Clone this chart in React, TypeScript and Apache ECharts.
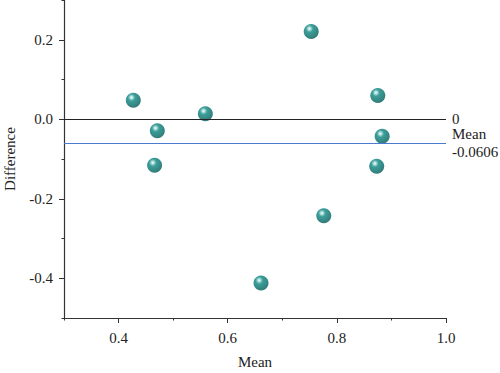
import React, { useEffect, useRef } from "react";
import * as echarts from "echarts";

const meanValues = [0.427, 0.471, 0.466, 0.559, 0.753, 0.661, 0.776, 0.875, 0.883, 0.873];
const diffValues = [0.048, -0.029, -0.116, 0.014, 0.221, -0.412, -0.243, 0.060, -0.043, -0.118];
const meanDiff = -0.0606;
const xTickLabels = [0.4, 0.6, 0.8, 1.0];
const yTickLabels = [-0.4, -0.2, 0.0, 0.2];

const FONT = "Liberation Serif";

export default function App() {
  const ref = useRef<HTMLDivElement>(null);
  useEffect(() => {
    const chart = echarts.init(ref.current!, null, { renderer: "svg" });
    const near = (v: number, arr: number[]) => arr.some((a) => Math.abs(a - v) < 1e-6);
    const axisColor = "#333";
    const labelBase = { fontFamily: FONT, fontSize: 15, color: "#222" };
    chart.setOption({
      animation: false,
      grid: { left: 64, right: 54, top: 0, bottom: 55, outerBoundsMode: "none", containLabel: false },
      xAxis: [
        {
          type: "value",
          min: 0.3,
          max: 1.0,
          interval: 0.1,
          name: "Mean",
          nameLocation: "middle",
          nameGap: 36,
          nameTextStyle: labelBase,
          axisLine: { show: true, onZero: false, lineStyle: { color: axisColor, width: 1.2 } },
          axisTick: { show: true, length: 2.5, lineStyle: { color: axisColor } },
          axisLabel: {
            ...labelBase,
            margin: 12,
            formatter: (v: number) => (near(v, xTickLabels) ? v.toFixed(1) : ""),
          },
          splitLine: { show: false },
        },
        {
          type: "value",
          min: 0.3,
          max: 1.0,
          interval: 0.1,
          position: "bottom",
          axisLine: { show: false, onZero: false },
          axisTick: { show: true, length: 5, customValues: xTickLabels, lineStyle: { color: axisColor } },
          axisLabel: { show: false },
          splitLine: { show: false },
        },
      ],
      yAxis: [
        {
          type: "value",
          min: -0.5,
          max: 0.3,
          interval: 0.1,
          name: "Difference",
          nameLocation: "middle",
          nameGap: 47,
          nameTextStyle: labelBase,
          axisLine: { show: true, onZero: false, lineStyle: { color: axisColor, width: 1.2 } },
          axisTick: { show: true, length: 2.5, lineStyle: { color: axisColor } },
          axisLabel: {
            ...labelBase,
            margin: 11,
            formatter: (v: number) => (near(v, yTickLabels) ? v.toFixed(1) : ""),
          },
          splitLine: { show: false },
        },
        {
          type: "value",
          min: -0.5,
          max: 0.3,
          interval: 0.1,
          position: "left",
          axisLine: { show: false, onZero: false },
          axisTick: { show: true, length: 5, customValues: yTickLabels, lineStyle: { color: axisColor } },
          axisLabel: { show: false },
          splitLine: { show: false },
        },
      ],
      series: [
        {
          type: "scatter",
          xAxisIndex: 0,
          yAxisIndex: 0,
          symbol: "circle",
          symbolSize: 15,
          data: meanValues.map((m, i) => [m, diffValues[i]]),
          itemStyle: {
            color: {
              type: "radial",
              x: 0.38,
              y: 0.32,
              r: 0.68,
              colorStops: [
                { offset: 0, color: "#ffffff" },
                { offset: 0.12, color: "#a6dcd8" },
                { offset: 0.35, color: "#0b8681" },
                { offset: 1, color: "#005c59" },
              ],
            },
          },
          markLine: {
            silent: true,
            symbol: "none",
            animation: false,
            lineStyle: { color: "#4a7bd0", width: 1.1, type: "solid", opacity: 1 },
            data: [
              {
                yAxis: 0,
                lineStyle: { color: "#222", width: 1.2, type: "solid" },
                label: {
                  show: true,
                  position: "end",
                  formatter: "0",
                  ...labelBase,
                  distance: 6,
                },
              },
              {
                yAxis: meanDiff,
                lineStyle: { color: "#4a7bd0", width: 1.1, type: "solid", opacity: 1 },
                label: {
                  show: true,
                  position: "end",
                  formatter: "Mean\n" + meanDiff.toString(),
                  ...labelBase,
                  lineHeight: 18,
                  align: "left",
                  distance: 6,
                  padding: [10, 0, 0, 0],
                },
              },
            ],
          },
        },
      ],
    });
    return () => chart.dispose();
  }, []);
  return <div ref={ref} style={{ position: "absolute", left: 0, top: 0, width: 500, height: 373 }} />;
}
